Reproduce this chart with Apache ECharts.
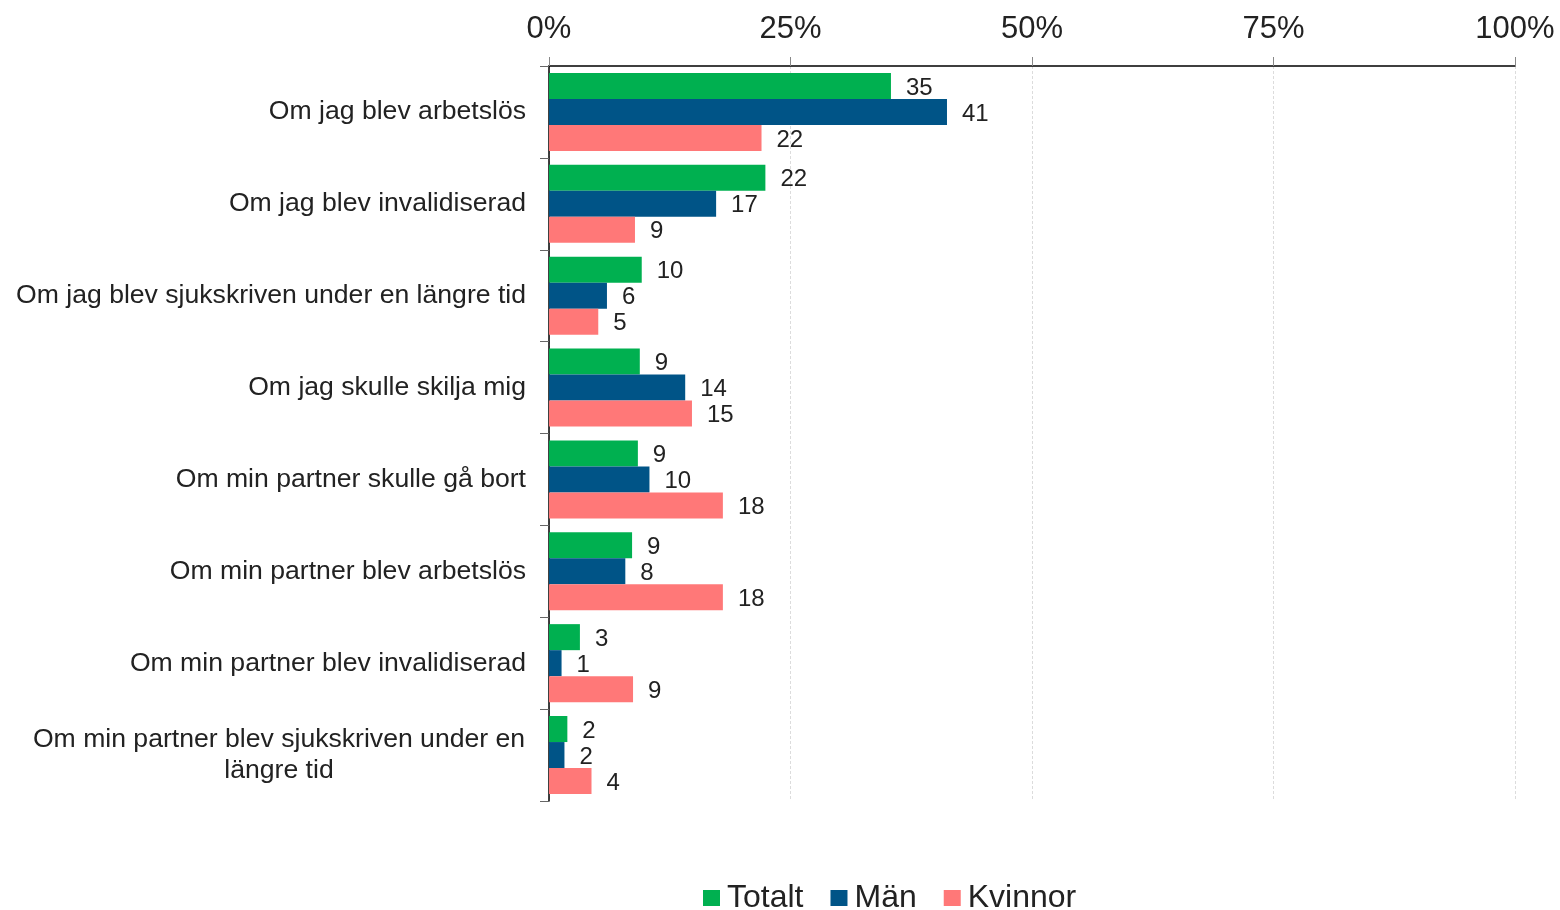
<!DOCTYPE html>
<html>
<head>
<meta charset="utf-8">
<script src="https://cdn.jsdelivr.net/npm/echarts@6/dist/echarts.min.js"></script>
<style>html,body{margin:0;padding:0;background:#fff}#c{width:1560px;height:910px}</style>
</head>
<body>
<div id="c"></div>
<script>
const categories = [
  "Om jag blev arbetslös",
  "Om jag blev invalidiserad",
  "Om jag blev sjukskriven under en längre tid",
  "Om jag skulle skilja mig",
  "Om min partner skulle gå bort",
  "Om min partner blev arbetslös",
  "Om min partner blev invalidiserad",
  "Om min partner blev sjukskriven under en\nlängre tid"
];
const totalt  = [35.4, 22.4, 9.6, 9.4, 9.2, 8.6, 3.2, 1.9];
const man     = [41.2, 17.3, 6.0, 14.1, 10.4, 7.9, 1.3, 1.6];
const kvinnor = [22.0, 8.9, 5.1, 14.8, 18.0, 18.0, 8.7, 4.4];
const xTicks = [0, 25, 50, 75, 100];

const font = "Liberation Sans";
const chart = echarts.init(document.getElementById('c'));
const lbl = {
  show: true, position: 'right', distance: 15, offset: [0, 2],
  color: '#222', fontSize: 24, fontFamily: font,
  formatter: p => Math.round(p.value)
};
function mk(name, data, color) {
  return { name, type: 'bar', data, barGap: '0%', barCategoryGap: '15%',
    itemStyle: { color }, label: lbl };
}
chart.setOption({
  animation: false,
  grid: { left: 549, right: 45, top: 66, bottom: 109 },
  legend: {
    top: 877, left: 698, itemWidth: 17, itemHeight: 16, itemGap: 27,
    icon: 'rect',
    textStyle: { fontSize: 32, color: '#222', fontFamily: font, padding: [0, 0, 0, 2] },
    data: ['Totalt', 'Män', 'Kvinnor']
  },
  xAxis: {
    type: 'value', position: 'top', min: xTicks[0], max: xTicks[xTicks.length - 1], interval: 25,
    axisLine: { show: true, lineStyle: { color: '#000', width: 1.5 } },
    axisTick: { show: true, length: 9, lineStyle: { color: '#888' } },
    splitLine: { show: true, lineStyle: { color: '#dcdcdc', type: [3, 2] } },
    axisLabel: { formatter: v => v + '%', fontSize: 31, color: '#222', fontFamily: font, margin: 21 }
  },
  yAxis: {
    type: 'category', inverse: true, data: categories,
    axisLine: { show: true, lineStyle: { color: '#000', width: 1.5 } },
    axisTick: { show: true, length: 9, lineStyle: { color: '#666' } },
    axisLabel: {
      fontSize: 26.6, color: '#222', fontFamily: font, margin: 23, lineHeight: 31,
      formatter: v => v.indexOf('\n') >= 0 ? '{c|' + v.replace('\n', '}\n{c|') + '}' : v,
      rich: { c: { width: 494, align: 'center', fontSize: 26.6, color: '#222', fontFamily: font, lineHeight: 31 } }
    }
  },
  series: [
    mk('Totalt', totalt, '#00B050'),
    mk('Män', man, '#005487'),
    mk('Kvinnor', kvinnor, '#FF7878')
  ]
});
</script>
</body>
</html>
